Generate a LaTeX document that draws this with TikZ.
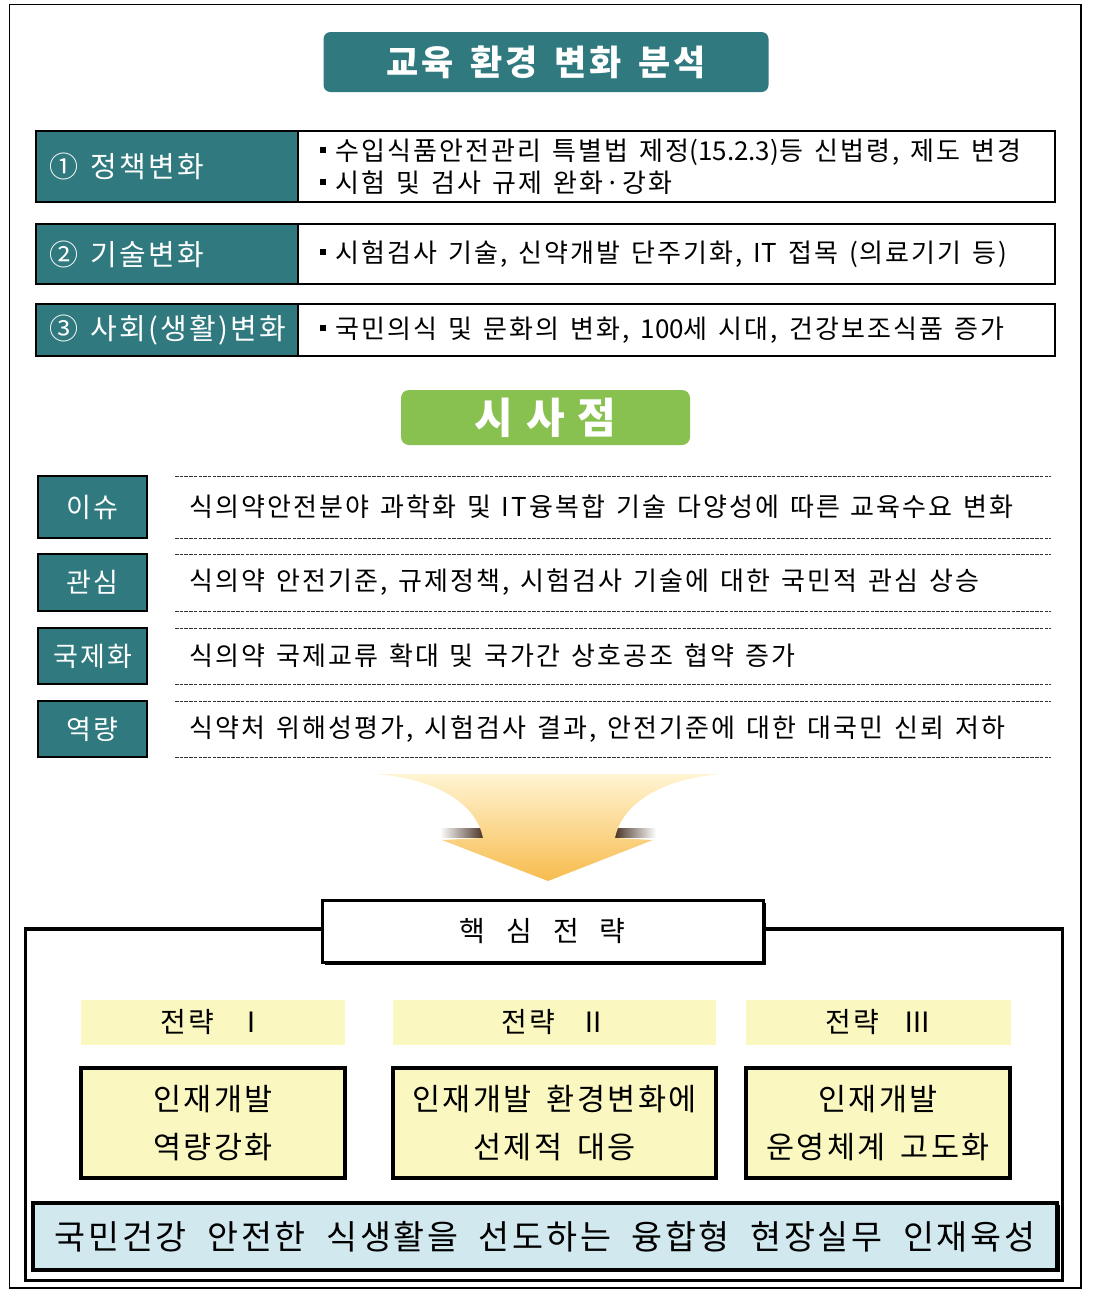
\documentclass[tikz,border=0pt]{standalone}
\usepackage{fontspec}
\setmainfont{Noto Sans CJK KR}[LetterSpace=8]
\usetikzlibrary{positioning}

\definecolor{tealbg}{RGB}{47,121,127}
\definecolor{greenbg}{RGB}{137,193,80}
\definecolor{paleyel}{RGB}{250,248,192}
\definecolor{paleblue}{RGB}{208,232,238}
\definecolor{arrowtop}{RGB}{255,244,210}
\definecolor{arrowbot}{RGB}{247,188,78}
\definecolor{shadowbr}{RGB}{58,34,20}

\newcommand\fnttitle{\fontsize{35}{42}\selectfont\bfseries\spaceskip=17pt\relax}
\newcommand\fntsum{\fontsize{42}{48}\selectfont\bfseries\spaceskip=13pt\relax}
\newcommand\fntlabel{\fontsize{29}{34}\selectfont\spaceskip=12pt\relax}
\newcommand\fntbody{\fontsize{26}{32}\selectfont\spaceskip=11pt\relax}
\newcommand\fntissue{\fontsize{27}{32}\selectfont}
\newcommand\fntstrat{\fontsize{30.5}{48}\selectfont\spaceskip=15pt\relax}
\newcommand\fntstlab{\fontsize{28}{34}\selectfont}
\newcommand\fntcore{\fontsize{28}{34}\selectfont\spaceskip=21pt\relax}
\newcommand\fntgoal{\fontsize{33.7}{40}\selectfont\spaceskip=20.5pt\relax}
\newcommand\sqbul{\rule[7.5pt]{5.5pt}{5.5pt}\hspace{10pt}}
\newcommand\tightnum[1]{{\addfontfeature{LetterSpace=0}#1}}

\tikzset{
  headbox/.style={fill=tealbg, rounded corners=7pt, text=white, font=\fnttitle, inner sep=0pt, outer sep=0pt},
  sumbox/.style={fill=greenbg, rounded corners=8pt, text=white, font=\fntsum, inner sep=0pt, outer sep=0pt},
  chglabel/.style={draw=black, line width=1.2pt, fill=tealbg, anchor=north west, minimum width=262pt, inner sep=0pt, outer sep=0pt},
  chgdesc/.style={draw=black, line width=1.2pt, fill=white, anchor=north west, minimum width=757pt, inner sep=0pt, outer sep=0pt},
  labeltext/.style={text=white, font=\fntlabel, anchor=west, inner sep=0pt},
  desctext/.style={font=\fntbody, anchor=west, align=left, inner sep=0pt},
  issuebox/.style={draw=black, line width=1.5pt, fill=tealbg, text=white, font=\fntissue, anchor=north west, minimum width=109pt, inner sep=0pt, outer sep=0pt},
  issuetext/.style={font=\fntbody, anchor=west, inner sep=0pt},
  dotrule/.style={line width=0.8pt, dash pattern=on 3.5pt off 1.2pt, black!80},
  stratlab/.style={fill=paleyel, font=\fntstlab, anchor=north west, minimum height=45pt, inner sep=0pt, outer sep=0pt},
  stratbox/.style={fill=paleyel, draw=black, line width=3.5pt, font=\fntstrat, align=center, anchor=north west, minimum height=110pt, inner sep=0pt, outer sep=0pt},
  corebox/.style={fill=white, draw=black, line width=3pt, font=\fntcore, minimum width=441pt, minimum height=62pt, anchor=north west, inner sep=0pt, outer sep=0pt},
  goalbox/.style={fill=paleblue, draw=black, line width=3.5pt, font=\fntgoal, minimum width=1024pt, minimum height=67pt, anchor=north west, inner sep=0pt, outer sep=0pt},
}

\begin{document}
\begin{tikzpicture}[x=1pt,y=-1pt]
\useasboundingbox (0,0) rectangle (1097,1299);
\draw[line width=1.3pt] (9.5,4.5) rectangle (1081,1288);

% analysis of the changes
\node[headbox, minimum width=445pt, minimum height=60pt] (head) at (546,62) {교육 환경 변화 분석};

\node[chglabel, minimum height=71pt] (pol) at (36,131) {};
\node[chgdesc, minimum height=71pt] (poldesc) at (298,131) {};
\node[labeltext] (poltxt) at ([xshift=13pt]pol.west) {① 정책변화};
\node[desctext] (poldtxt) at ([xshift=22pt]poldesc.west) {\sqbul 수입식품안전관리 특별법 제정\tightnum{(15.2.3)}등 신법령, 제도 변경\\\sqbul 시험 및 검사 규제 완화·강화};

\node[chglabel, minimum height=60pt] (tech) at (36,224) {};
\node[chgdesc, minimum height=60pt] (techdesc) at (298,224) {};
\node[labeltext] (techtxt) at ([xshift=13pt]tech.west) {② 기술변화};
\node[desctext] (techdtxt) at ([xshift=22pt]techdesc.west) {\sqbul 시험검사 기술, 신약개발 단주기화, \tightnum{IT} 접목 (의료기기 등)};

\node[chglabel, minimum height=52pt] (soc) at (36,304) {};
\node[chgdesc, minimum height=52pt] (socdesc) at (298,304) {};
\node[labeltext] (soctxt) at ([xshift=13pt]soc.west) {③ 사회(생활)변화};
\node[desctext] (socdtxt) at ([xshift=22pt]socdesc.west) {\sqbul 국민의식 및 문화의 변화, \tightnum{100}세 시대, 건강보조식품 증가};

% implications
\node[sumbox, minimum width=289pt, minimum height=55pt] (impl) at (545.5,417.5) {시 사 점};

\foreach \y in {476,538,554,611,628,684,701,757}
  \draw[dotrule] (175,\y) -- (1051,\y);

\node[issuebox, minimum height=62pt] (iss) at (38,476) {이슈};
\node[issuetext] (isstxt) at (189,507) {식의약안전분야 과학화 및 IT융복합 기술 다양성에 따른 교육수요 변화};
\node[issuebox, minimum height=57pt] (cnc) at (38,554) {관심};
\node[issuetext] (cnctxt) at (189,582.5) {식의약 안전기준, 규제정책, 시험검사 기술에 대한 국민적 관심 상승};
\node[issuebox, minimum height=56pt] (intl) at (38,628) {국제화};
\node[issuetext] (intltxt) at (189,656) {식의약 국제교류 확대 및 국가간 상호공조 협약 증가};
\node[issuebox, minimum height=56pt] (cap) at (38,701) {역량};
\node[issuetext] (captxt) at (189,729) {식약처 위해성평가, 시험검사 결과, 안전기준에 대한 대국민 신뢰 저하};

% big arrow
\shade[left color=white, right color=shadowbr] (440,828) rectangle (487,837);
\shade[left color=shadowbr, right color=white] (611,828) rectangle (656,837);
\shade[top color=arrowtop, bottom color=arrowbot] (376,774) -- (721,774)
  .. controls (662,779) and (622,803) .. (615,838) -- (653,840) -- (548,881)
  -- (442,840) -- (483,838) .. controls (476,803) and (436,779) .. (376,774) -- cycle;

% key strategies
\draw[line width=3.5pt] (25.5,929) rectangle (1062.5,1280.5);
\fill[black] (325,903) rectangle (766,965);
\node[corebox] (core) at (322,900) {핵 심 전 략};

\node[stratlab, minimum width=264pt] (lab1) at (81,1000) {전략\hspace{24pt}Ⅰ};
\node[stratlab, minimum width=323pt] (lab2) at (393,1000) {전략\hspace{24pt}Ⅱ};
\node[stratlab, minimum width=265pt] (lab3) at (746,1000) {전략\hspace{24pt}Ⅲ};

\node[stratbox, minimum width=264pt] (str1) at (81,1068) {인재개발\\역량강화};
\node[stratbox, minimum width=323pt] (str2) at (393,1068) {인재개발 환경변화에\\선제적 대응};
\node[stratbox, minimum width=264pt] (str3) at (746,1068) {인재개발\\운영체계 고도화};

\fill[black] (35,1205) rectangle (1059.5,1272);
\node[goalbox] (goal) at (33,1203) {국민건강 안전한 식생활을 선도하는 융합형 현장실무 인재육성};
\end{tikzpicture}
\end{document}
